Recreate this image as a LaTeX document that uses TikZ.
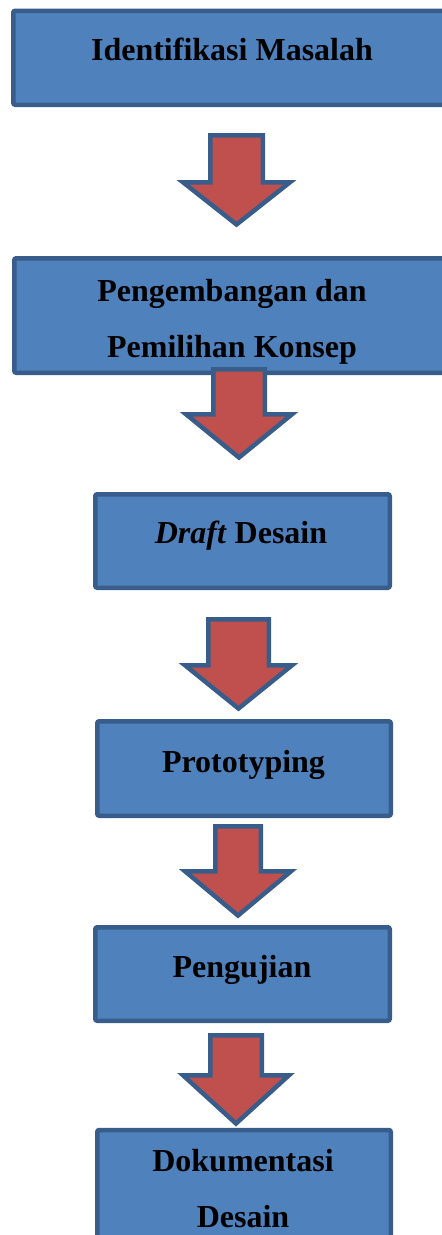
\documentclass[tikz,border=0pt]{standalone}
\usepackage{fontspec}
\setmainfont{Liberation Serif}[Ligatures=NoCommon]
\definecolor{boxfill}{HTML}{4F81BD}
\definecolor{boxline}{HTML}{385D8A}
\definecolor{arrfill}{HTML}{C0504D}
\newcommand{\blockarr}[6]{% cx, shaft half, top, head half, head y, tip
  \draw[blockarrow] ({#1-#2+2.25},{#3+2.25}) -- ({#1+#2-2.25},{#3+2.25}) -- ({#1+#2-2.25},{#5+2.25}) -- ({#1+#4-4},{#5+2.25}) -- (#1,{#6-3.5}) -- ({#1-#4+4},{#5+2.25}) -- ({#1-#2+2.25},{#5+2.25}) -- cycle;}
\begin{document}
\begin{tikzpicture}[x=1pt,y=-1pt,
  stepbox/.style={draw=boxline, fill=boxfill, line width=4.5pt, rounded corners=2pt, inner sep=0pt},
  blockarrow/.style={draw=boxline, fill=arrfill, line width=4.5pt, line join=miter},
  lbl/.style={font=\fontsize{32}{56}\selectfont\bfseries, anchor=base, inner sep=0pt, align=center}]
\useasboundingbox (0,0) rectangle (442,1235);
\clip (0,0) rectangle (442,1235);
% boxes
\node[stepbox, minimum width=437.5pt, minimum height=94pt] (b1) at (232,57.75) {};
\node[stepbox, minimum width=436.5pt, minimum height=114.5pt] (b2) at (232.5,315.5) {};
\node[stepbox, minimum width=294.5pt, minimum height=93.5pt] (b3) at (242.5,541) {};
\node[stepbox, minimum width=293.5pt, minimum height=94.5pt] (b4) at (244,768.5) {};
\node[stepbox, minimum width=294.5pt, minimum height=93.5pt] (b5) at (242.5,974) {};
\node[stepbox, minimum width=293.5pt, minimum height=130pt] (b6) at (244,1195) {};
% texts (base anchor = baseline of the last line)
\node[lbl] (t1) at (232,60) {Identifikasi Masalah};
\node[lbl] (t2) at (232,357) {Pengembangan dan\\Pemilihan Konsep};
\node[lbl] (t3) at (241,543) {\textit{Draft} Desain};
\node[lbl] (t4) at (243.5,772) {Prototyping};
\node[lbl] (t5) at (242,977) {Pengujian};
\node[lbl] (t6) at (243,1227) {Dokumentasi\\Desain};
% block arrows
\blockarr{236.5}{28.5}{133}{57.5}{180}{228}
\blockarr{239}{28}{367}{57}{412}{461}
\blockarr{238.5}{32.5}{617}{57.5}{663}{712}
\blockarr{238}{25}{824}{57}{869}{919}
\blockarr{236}{28}{1033}{57}{1073}{1127}
\end{tikzpicture}
\end{document}
